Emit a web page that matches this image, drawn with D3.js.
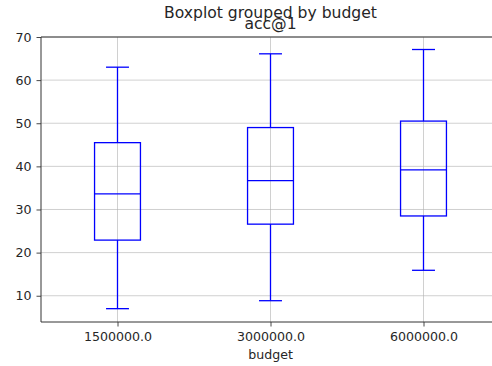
<!DOCTYPE html>
<html>
<head>
<meta charset="utf-8">
<script src="https://cdn.jsdelivr.net/npm/d3@7"></script>
<style>
  html, body { margin: 0; padding: 0; background: #fff; }
  svg { display: block; font-family: "DejaVu Sans", sans-serif; }
</style>
</head>
<body>
<svg id="chart" width="492" height="366"></svg>
<script>
// Budget groups and the five-number summary of acc@1 for each
const categories = ["1500000.0", "3000000.0", "6000000.0"];
const whiskerLow = [7.0, 8.85, 15.9];
const q1 = [22.9, 26.6, 28.5];
const median = [33.6, 36.7, 39.2];
const q3 = [45.5, 49.0, 50.5];
const whiskerHigh = [63.0, 66.1, 67.1];
const yTicks = [10, 20, 30, 40, 50, 60, 70];

const svg = d3.select("#chart");
const plot = { left: 41, right: 500, top: 37, bottom: 322 };
const textColor = "#262626";
const boxColor = "#0000ff";

// Boxes sit at positions 1..n, with half a step of padding either side
const x = d3.scaleLinear().domain([0.5, categories.length + 0.5]).range([plot.left, plot.right]);
const y = d3.scaleLinear().domain([3.91, 70.0]).range([plot.bottom, plot.top]);
const pos = categories.map((_, i) => i + 1);
const boxW = 0.3;

// Grid
const grid = svg.append("g");
grid.selectAll("line.gy").data(yTicks).join("line")
  .attr("x1", plot.left).attr("x2", plot.right)
  .attr("y1", d => y(d)).attr("y2", d => y(d))
  .attr("stroke", "#b0b0b0").attr("stroke-opacity", 0.6).attr("stroke-width", 1);
grid.selectAll("line.gx").data(pos).join("line")
  .attr("x1", d => x(d)).attr("x2", d => x(d))
  .attr("y1", plot.top).attr("y2", plot.bottom)
  .attr("stroke", "#b0b0b0").attr("stroke-opacity", 0.6).attr("stroke-width", 1);

// Boxes, medians, whiskers and caps
const boxes = svg.append("g").attr("stroke", boxColor).attr("stroke-width", 1.3).attr("fill", "none");
const groups = boxes.selectAll("g").data(pos.map((p, i) => ({
  p, lo: whiskerLow[i], q1: q1[i], med: median[i], q3: q3[i], hi: whiskerHigh[i]
}))).join("g");

groups.append("rect")
  .attr("x", d => x(d.p - boxW / 2))
  .attr("width", d => x(d.p + boxW / 2) - x(d.p - boxW / 2))
  .attr("y", d => y(d.q3))
  .attr("height", d => y(d.q1) - y(d.q3));
groups.append("line")
  .attr("x1", d => x(d.p - boxW / 2)).attr("x2", d => x(d.p + boxW / 2))
  .attr("y1", d => y(d.med)).attr("y2", d => y(d.med));
groups.append("line")
  .attr("x1", d => x(d.p)).attr("x2", d => x(d.p))
  .attr("y1", d => y(d.q1)).attr("y2", d => y(d.lo));
groups.append("line")
  .attr("x1", d => x(d.p)).attr("x2", d => x(d.p))
  .attr("y1", d => y(d.q3)).attr("y2", d => y(d.hi));
groups.append("line")
  .attr("x1", d => x(d.p - boxW / 4)).attr("x2", d => x(d.p + boxW / 4))
  .attr("y1", d => y(d.lo)).attr("y2", d => y(d.lo));
groups.append("line")
  .attr("x1", d => x(d.p - boxW / 4)).attr("x2", d => x(d.p + boxW / 4))
  .attr("y1", d => y(d.hi)).attr("y2", d => y(d.hi));

// Axes
const yAxis = d3.axisLeft(y).tickValues(yTicks).tickSize(4.5).tickPadding(5).tickFormat(d3.format("d"));
const gy = svg.append("g").attr("transform", `translate(${plot.left},0)`).call(yAxis);
const xAxis = d3.axisBottom(x).tickValues(pos).tickSize(4.5).tickPadding(6).tickFormat((d, i) => categories[i]);
const gx = svg.append("g").attr("transform", `translate(0,${plot.bottom})`).call(xAxis);

[gx, gy].forEach(g => {
  g.attr("font-family", "DejaVu Sans, sans-serif").attr("font-size", null);
  g.select(".domain").remove();
  g.selectAll(".tick line").attr("stroke", "#333").attr("stroke-width", 0.9);
  g.selectAll(".tick text").attr("fill", textColor).style("font-size", "12.6px");
});

// Spines (left, top, bottom)
svg.append("line").attr("x1", plot.left).attr("x2", plot.left).attr("y1", plot.top).attr("y2", plot.bottom)
  .attr("stroke", "#333").attr("stroke-width", 1);
svg.append("line").attr("x1", plot.left).attr("x2", plot.right).attr("y1", plot.top).attr("y2", plot.top)
  .attr("stroke", "#333").attr("stroke-width", 1);
svg.append("line").attr("x1", plot.left).attr("x2", plot.right).attr("y1", plot.bottom).attr("y2", plot.bottom)
  .attr("stroke", "#333").attr("stroke-width", 1);

// Titles and axis label
const cx = (plot.left + plot.right) / 2;
svg.append("text").attr("x", cx).attr("y", 18).attr("text-anchor", "middle")
  .attr("fill", textColor).style("font-size", "15.6px").text("Boxplot grouped by budget");
svg.append("text").attr("x", cx).attr("y", 29).attr("text-anchor", "middle")
  .attr("fill", textColor).style("font-size", "15.6px").text("acc@1");
svg.append("text").attr("x", cx).attr("y", 359).attr("text-anchor", "middle")
  .attr("fill", textColor).style("font-size", "12.6px").text("budget");
</script>
</body>
</html>
